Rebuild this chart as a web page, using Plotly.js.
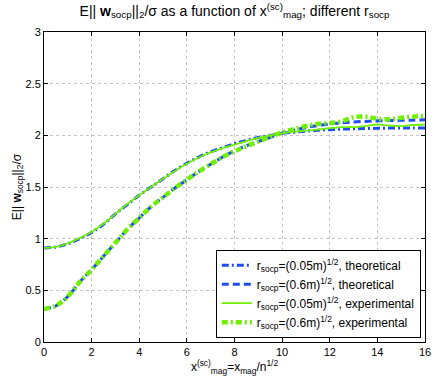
<!DOCTYPE html>
<html>
<head>
<meta charset="utf-8">
<script src="https://cdn.plot.ly/plotly-3.0.1.min.js"></script>
<style>
  html, body { margin: 0; padding: 0; background: #fff; }
  #chart { width: 436px; height: 382px; }
</style>
</head>
<body>
<div id="chart"></div>
<script>
// x^(sc)_mag grid
const xmag = [0, 0.5, 1, 1.5, 2, 2.5, 3, 3.5, 4, 4.5, 5, 5.5, 6, 6.5, 7, 7.5, 8,
  8.5, 9, 9.5, 10, 10.5, 11, 11.5, 12, 12.5, 13, 13.5, 14, 14.5, 15, 15.5, 16];

// r_socp = (0.05m)^1/2
const theo005 = [0.91, 0.92, 0.95, 1.00, 1.06, 1.14, 1.24, 1.33, 1.42, 1.50, 1.58, 1.66, 1.73,
  1.79, 1.84, 1.88, 1.92, 1.95, 1.98, 2.00, 2.02, 2.03, 2.04, 2.05, 2.055, 2.06, 2.063,
  2.066, 2.068, 2.07, 2.07, 2.071, 2.072];
const exp005 = [0.91, 0.92, 0.955, 1.005, 1.065, 1.145, 1.24, 1.335, 1.42, 1.50, 1.58, 1.655, 1.725,
  1.785, 1.835, 1.875, 1.91, 1.945, 1.975, 2.00, 2.02, 2.035, 2.045, 2.055, 2.07, 2.08, 2.08,
  2.09, 2.105, 2.095, 2.09, 2.10, 2.105];

// r_socp = (0.6m)^1/2
const theo06 = [0.32, 0.35, 0.44, 0.58, 0.70, 0.83, 0.96, 1.09, 1.20, 1.31, 1.40, 1.49, 1.57,
  1.65, 1.72, 1.79, 1.85, 1.90, 1.94, 1.98, 2.02, 2.05, 2.075, 2.095, 2.11, 2.12, 2.13,
  2.135, 2.14, 2.143, 2.145, 2.147, 2.15];
const exp06 = [0.32, 0.35, 0.44, 0.58, 0.70, 0.83, 0.96, 1.09, 1.20, 1.31, 1.40, 1.49, 1.57,
  1.65, 1.72, 1.79, 1.845, 1.895, 1.94, 1.985, 2.03, 2.06, 2.09, 2.11, 2.12, 2.135, 2.175,
  2.18, 2.16, 2.155, 2.17, 2.18, 2.19];

const seriesNames = [
  'r<sub>socp</sub>=(0.05m)<sup>1/2</sup>, theoretical',
  'r<sub>socp</sub>=(0.6m)<sup>1/2</sup>, theoretical',
  'r<sub>socp</sub>=(0.05m)<sup>1/2</sup>, experimental',
  'r<sub>socp</sub>=(0.6m)<sup>1/2</sup>, experimental',
];

const BLUE = '#1f4cf5';
const GREEN = '#6ef000';
const FONT = 'Liberation Sans, Arial, sans-serif';

const traces = [
  { x: xmag, y: theo005, name: seriesNames[0],
    line: { color: BLUE, width: 3, dash: '7px,3px,2px,3px' } },
  { x: xmag, y: theo06, name: seriesNames[1],
    line: { color: BLUE, width: 3, dash: '7px,4px' } },
  { x: xmag, y: exp005, name: seriesNames[2],
    line: { color: GREEN, width: 1.8 } },
  { x: xmag, y: exp06, name: seriesNames[3],
    line: { color: GREEN, width: 4.5, dash: '6px,3px,2px,3px' } },
].map(t => ({ ...t, type: 'scatter', mode: 'lines', line: { ...t.line, shape: 'spline' } }));

const axisBase = {
  showline: true, linecolor: '#000', linewidth: 1, mirror: 'ticks',
  ticks: 'inside', ticklen: 4, tickcolor: '#000',
  showgrid: true, gridcolor: '#c4c4c4', griddash: 'dot', gridwidth: 1,
  zeroline: false, tickfont: { family: FONT, size: 11, color: '#000' },
};

Plotly.newPlot('chart', traces, {
  width: 436, height: 382,
  margin: { l: 44, r: 11, t: 32, b: 40 },
  paper_bgcolor: '#fff', plot_bgcolor: '#fff',
  font: { family: FONT, size: 12, color: '#000' },
  title: {
    text: 'E|| <b>w</b><sub>socp</sub>||<sub>2</sub>/σ as a function of x<sup>(sc)</sup><sub>mag</sub>; different r<sub>socp</sub>',
    font: { family: FONT, size: 14, color: '#000' },
    xref: 'paper', x: 0.5, xanchor: 'center', y: 0.985, yanchor: 'top',
  },
  xaxis: {
    ...axisBase, range: [0, 16], dtick: 2, tick0: 0,
    title: { text: 'x<sup>(sc)</sup><sub>mag</sub>=x<sub>mag</sub>/n<sup>1/2</sup>',
      font: { family: FONT, size: 12 }, standoff: 2 },
  },
  yaxis: {
    ...axisBase, range: [0, 3], dtick: 0.5, tick0: 0,
    title: { text: 'E|| <b>w</b><sub>socp</sub>||<sub>2</sub>/σ',
      font: { family: FONT, size: 12 }, standoff: 1 },
  },
  showlegend: true,
  legend: {
    x: 0.989, y: 0.014, xanchor: 'right', yanchor: 'bottom',
    bgcolor: '#fff', bordercolor: '#000', borderwidth: 1,
    font: { family: FONT, size: 12, color: '#000' },
    tracegroupgap: 0, itemwidth: 30,
  },
}, { displayModeBar: false, staticPlot: true });
</script>
</body>
</html>
